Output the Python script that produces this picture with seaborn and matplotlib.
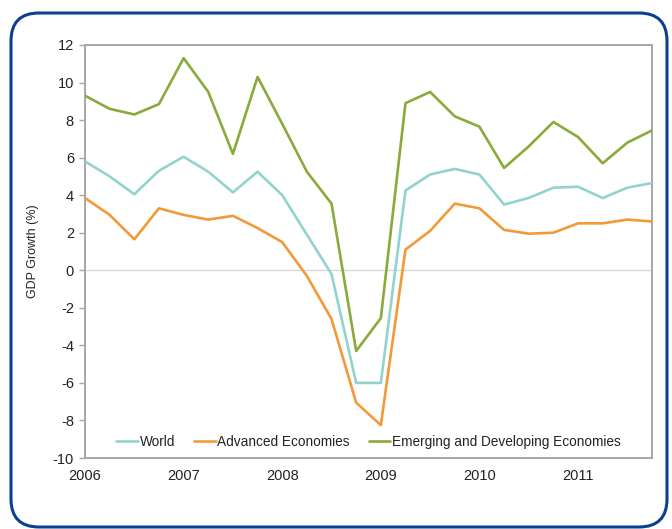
import matplotlib
matplotlib.use("Agg")
import matplotlib.pyplot as plt
from matplotlib.patches import FancyBboxPatch
import numpy as np
import pandas as pd
import seaborn as sns

# Quarterly GDP growth, 2006Q1 - 2011Q4 (%)
quarters = [f"{y}Q{q}" for y in range(2006, 2012) for q in range(1, 5)]
world = [5.8, 5.0, 4.05, 5.3, 6.05, 5.25, 4.15, 5.25, 4.0, 1.9, -0.2, -6.0,
         -6.0, 4.25, 5.1, 5.4, 5.1, 3.5, 3.85, 4.4, 4.45, 3.85, 4.4, 4.65]
advanced = [3.85, 2.95, 1.65, 3.3, 2.95, 2.7, 2.9, 2.25, 1.5, -0.3, -2.6, -7.05,
            -8.25, 1.1, 2.1, 3.55, 3.3, 2.15, 1.95, 2.0, 2.5, 2.5, 2.7, 2.6]
emerging = [9.3, 8.6, 8.3, 8.85, 11.3, 9.5, 6.2, 10.3, 7.8, 5.25, 3.55, -4.3,
            -2.55, 8.9, 9.5, 8.2, 7.65, 5.45, 6.6, 7.9, 7.1, 5.7, 6.8, 7.45]
series_names = ["World", "Advanced Economies", "Emerging and Developing Economies"]
series_colors = ["#93d3cf", "#f39a38", "#8aaa3c"]
year_labels = ["2006", "2007", "2008", "2009", "2010", "2011"]

df = pd.DataFrame({
    "t": list(range(len(quarters))) * 3,
    "growth": world + advanced + emerging,
    "series": sum([[n] * len(quarters) for n in series_names], []),
})

sns.set_theme(style="white")
plt.rcParams["font.family"] = ["Liberation Sans", "DejaVu Sans"]
plt.rcParams["axes.unicode_minus"] = False

W, H = 672, 529
fig = plt.figure(figsize=(W / 100, H / 100), dpi=100)
ax = fig.add_axes([85 / W, (H - 458) / H, (652 - 85) / W, (458 - 45) / H])

# Rounded blue frame around the whole chart
frame = FancyBboxPatch((11, 2), 656, 514,
                       boxstyle="round,pad=0,rounding_size=28",
                       transform=None, facecolor="none",
                       edgecolor="#0b3f8f", linewidth=2.2, zorder=0)
fig.patches.append(frame)

ax.axhline(0, color="#d9d9d9", linewidth=1.0, zorder=1)

sns.lineplot(data=df, x="t", y="growth", hue="series", hue_order=series_names,
             palette=dict(zip(series_names, series_colors)), linewidth=1.9,
             ax=ax, legend=True, zorder=3)

ax.set_xlim(0, len(quarters) - 1)
ax.set_ylim(-10, 12)
ax.set_yticks(np.arange(-10, 13, 2))
ax.set_xticks(range(0, len(quarters), 4))
ax.set_xticklabels(year_labels)
ax.set_xlabel("")
ax.set_ylabel("GDP Growth (%)", fontsize=9, color="#222222", labelpad=10)

ax.tick_params(axis="y", which="major", left=True, length=4, width=1,
               color="#a6a6a6", labelsize=10.5, labelcolor="#222222", pad=4)
ax.tick_params(axis="x", which="major", bottom=False, length=0,
               labelsize=10.5, labelcolor="#222222", pad=8)

for side in ["left", "right", "top", "bottom"]:
    ax.spines[side].set_visible(True)
    ax.spines[side].set_color("#a6a6a6")
    ax.spines[side].set_linewidth(1.4)

handles, labels = ax.get_legend_handles_labels()
ax.legend(handles, labels, loc="lower center", bbox_to_anchor=(0.5, 0.0),
          borderaxespad=0.25, ncol=3, frameon=False, fontsize=9.8,
          handlelength=1.6, handletextpad=0.1, columnspacing=1.4,
          labelcolor="#222222")

fig.savefig("out.png", dpi=100)
